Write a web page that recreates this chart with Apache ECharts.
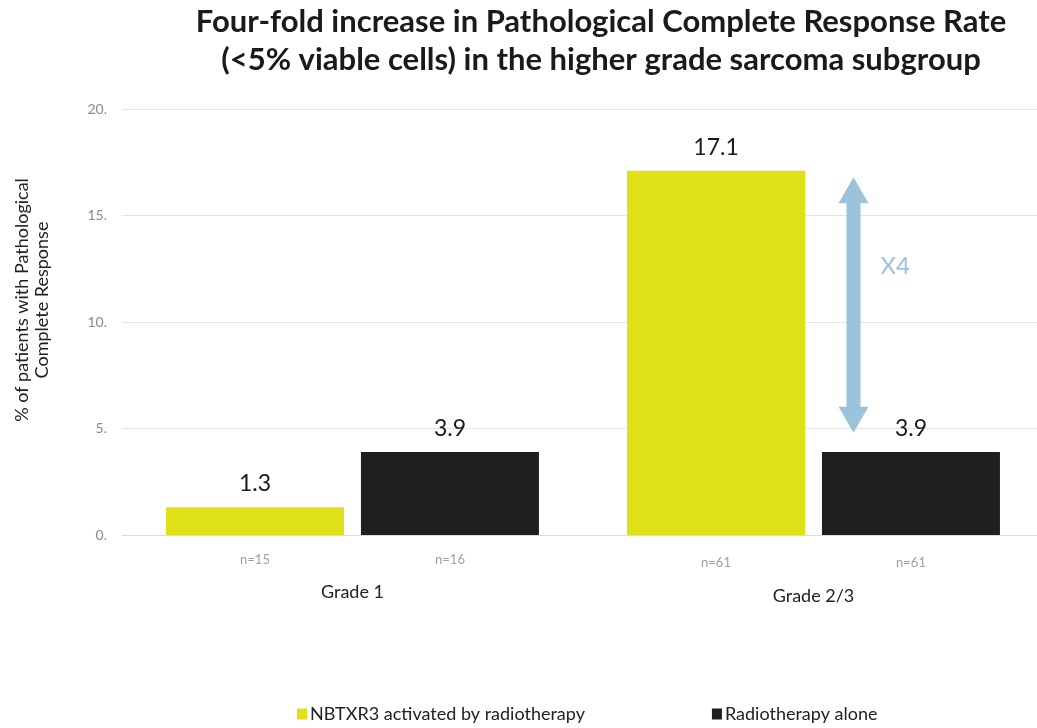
<!DOCTYPE html>
<html>
<head>
<meta charset="utf-8">
<script src="https://cdn.jsdelivr.net/npm/echarts@6/dist/echarts.min.js"></script>
<style>
  html, body { margin: 0; padding: 0; background: #fff; overflow: hidden; }
  #chart { width: 1044px; height: 728px; }
</style>
</head>
<body>
<div id="chart"></div>
<script>
// data
var grades = ['Grade 1', 'Grade 2/3'];
var nbtxr3 = [1.3, 17.1];
var rtAlone = [3.9, 3.9];
var nNbtxr3 = ['n=15', 'n=61'];
var nRt = ['n=16', 'n=61'];
var yTicks = [0, 5, 10, 15, 20];
var foldText = 'X4';
// arrow spans from just under the yellow top to just above the black top
var arrowTop = 16.8;
var arrowBottom = 4.8;

var font = 'Lato';
var chart = echarts.init(document.getElementById('chart'));

chart.setOption({
  animation: false,
  textStyle: { fontFamily: font },
  title: {
    text: 'Four-fold increase in Pathological Complete Response Rate\n(<5% viable cells) in the higher grade sarcoma subgroup',
    left: 596,
    top: -2,
    textAlign: 'center',
    textStyle: { fontFamily: font, fontSize: 31, fontWeight: 'bold', color: '#1a1a1a', lineHeight: 38 }
  },
  legend: {
    data: ['NBTXR3 activated by radiotherapy', 'Radiotherapy alone'],
    bottom: 0,
    left: 292,
    itemGap: 127,
    itemWidth: 10,
    itemHeight: 11,
    icon: 'rect',
    textStyle: { fontFamily: font, fontSize: 18, color: '#222', padding: [0, 0, 0, -2] }
  },
  grid: { left: 122, top: 109, right: 0, bottom: 193 },
  xAxis: {
    type: 'category',
    data: grades,
    axisLine: { lineStyle: { color: '#dcdcdc' } },
    axisTick: { show: false },
    axisLabel: {
      margin: 16,
      interval: 0,
      formatter: function (v, i) {
        var k = i === 0 ? 'n' : 'n2';
        return '{' + k + '|' + nNbtxr3[i] + '}{' + k + '|' + nRt[i] + '}\n{' + (i === 0 ? 'g' : 'g2') + '|' + v + '}';
      },
      rich: {
        n: { width: 195, align: 'center', fontSize: 13, color: '#a0a0a0', fontFamily: font, lineHeight: 18 },
        n2: { width: 195, align: 'center', fontSize: 13, color: '#a0a0a0', fontFamily: font, lineHeight: 18, padding: [5, 0, 0, 0] },
        g: { fontSize: 18, color: '#222', fontFamily: font, lineHeight: 46 },
        g2: { fontSize: 18, color: '#222', fontFamily: font, lineHeight: 46, padding: [9, 0, 0, 0] }
      }
    }
  },
  yAxis: {
    type: 'value',
    min: yTicks[0],
    max: yTicks[yTicks.length - 1],
    interval: 5,
    name: '% of patients with Pathological\nComplete Response',
    nameLocation: 'middle',
    nameGap: 70,
    nameRotate: 90,
    nameTextStyle: { fontFamily: font, fontSize: 18, color: '#222', lineHeight: 20, padding: [0, 0, 0, 44] },
    axisLine: { show: false },
    axisTick: { show: false },
    axisLabel: { margin: 15, color: '#8a8a8a', fontSize: 14, formatter: function (v) { return v + '.'; } },
    splitLine: { lineStyle: { color: '#e4e4e4' } }
  },
  series: [
    {
      name: 'NBTXR3 activated by radiotherapy',
      type: 'bar',
      data: nbtxr3,
      barWidth: 178,
      barGap: '9.5%',
      itemStyle: { color: '#dfe015' },
      label: { show: true, position: 'top', distance: 12, fontSize: 23, color: '#1a1a1a', fontFamily: font }
    },
    {
      name: 'Radiotherapy alone',
      type: 'bar',
      data: rtAlone,
      barWidth: 178,
      itemStyle: { color: '#1f1f1f' },
      label: { show: true, position: 'top', distance: 12, fontSize: 23, color: '#1a1a1a', fontFamily: font }
    }
  ]
});

// double arrow annotation, placed through the axes
function drawArrow() {
  var x = chart.convertToPixel({ xAxisIndex: 0 }, grades[1]) + 40;
  var y1 = chart.convertToPixel({ yAxisIndex: 0 }, arrowTop);
  var y2 = chart.convertToPixel({ yAxisIndex: 0 }, arrowBottom);
  var hw = 15, hh = 26, sw = 7;
  var pts = [
    [x, y1], [x + hw, y1 + hh], [x + sw, y1 + hh], [x + sw, y2 - hh], [x + hw, y2 - hh],
    [x, y2], [x - hw, y2 - hh], [x - sw, y2 - hh], [x - sw, y1 + hh], [x - hw, y1 + hh]
  ];
  chart.setOption({
    graphic: [
      { type: 'polygon', shape: { points: pts }, style: { fill: '#9cc3dc' } },
      { type: 'text', x: x + 27, y: chart.convertToPixel({ yAxisIndex: 0 }, 12.6),
        style: { text: foldText, fontSize: 24, fill: '#9cc3dc', fontFamily: font, verticalAlign: 'middle' } }
    ]
  });
}
drawArrow();
window.onresize = function () { chart.resize(); drawArrow(); };
</script>
</body>
</html>
